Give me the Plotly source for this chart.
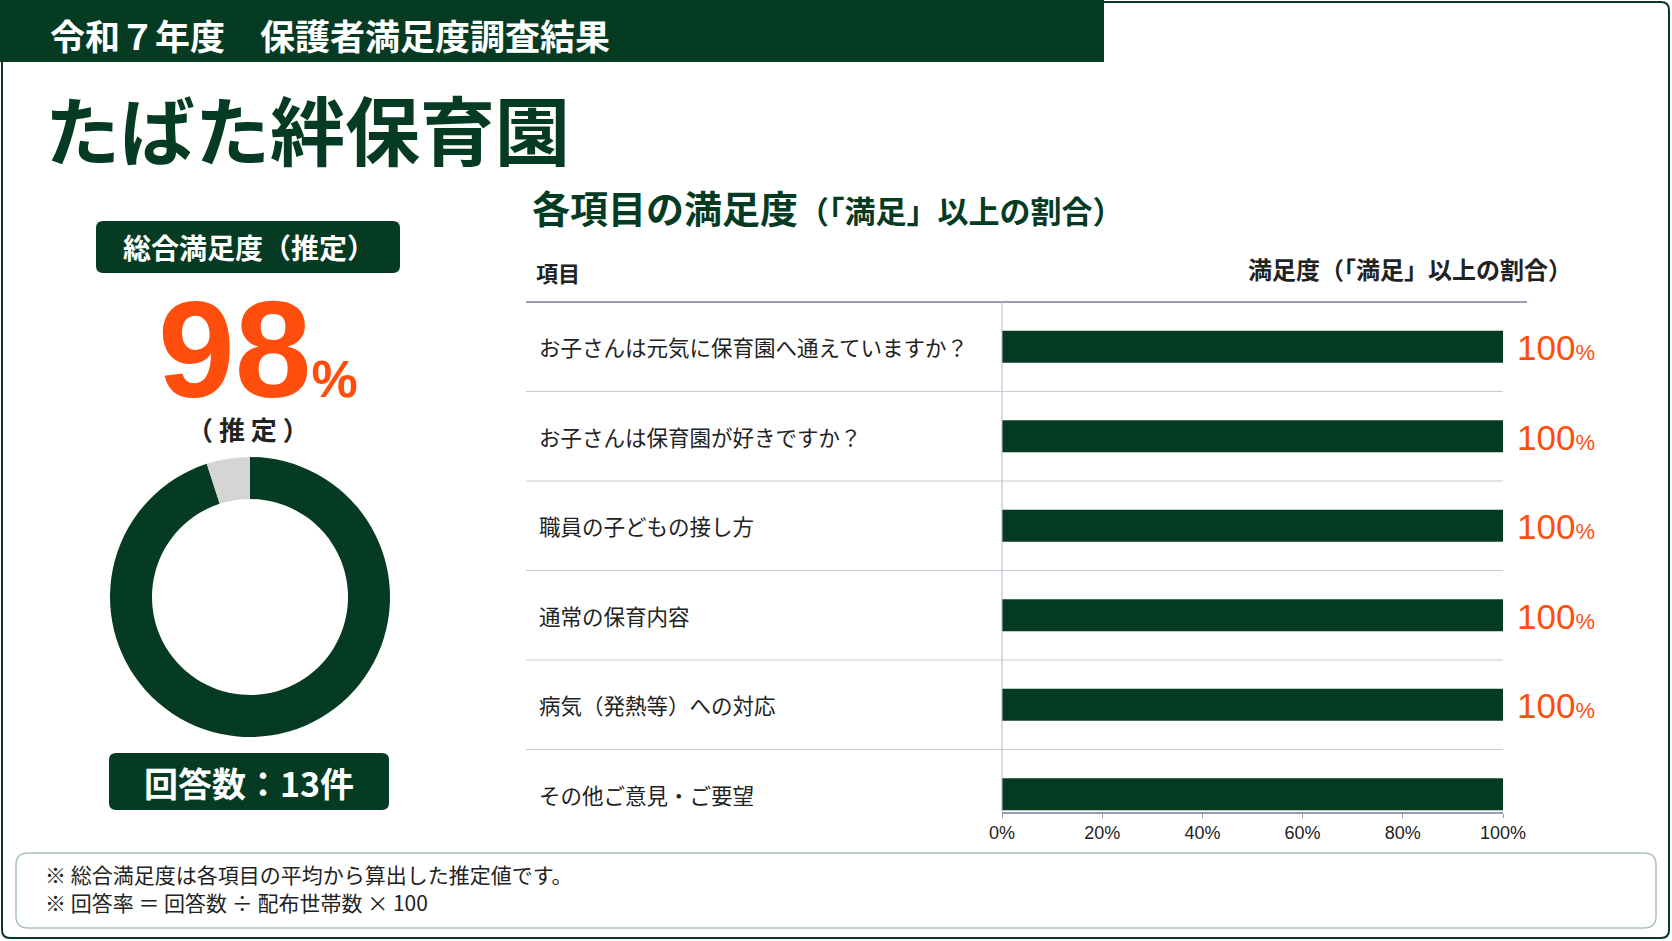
import plotly.graph_objects as go

W, H = 1672, 941

GREEN = "#053b23"
ORANGE = "#ff4d0d"
TEXT = "#222222"
JP = "Noto Sans CJK JP"
NUM = "Liberation Sans"

# data
items = [
    "お子さんは元気に保育園へ通えていますか？",
    "お子さんは保育園が好きですか？",
    "職員の子どもの接し方",
    "通常の保育内容",
    "病気（発熱等）への対応",
    "その他ご意見・ご要望",
]
satisfaction = [100, 100, 100, 100, 100, 100]
value_labels = ["100", "100", "100", "100", "100", ""]

donut_labels = ["満足", "その他"]
donut_values = [95, 5]
overall_score = "98"
responses = 13

tick_vals = [0, 20, 40, 60, 80, 100]
tick_text = ["0%", "20%", "40%", "60%", "80%", "100%"]

notes = [
    "※ 総合満足度は各項目の平均から算出した推定値です。",
    "※ 回答率 ＝ 回答数 ÷ 配布世帯数 × 100",
]


def px(x):
    return x / W


def py(y):
    return 1 - y / H


def rounded_box(x0, y0, x1, y1, r):
    # rounded rectangle path in paper coords, from pixel values
    pts = [
        f"M {px(x0 + r)} {py(y0)}",
        f"L {px(x1 - r)} {py(y0)}",
        f"Q {px(x1)} {py(y0)} {px(x1)} {py(y0 + r)}",
        f"L {px(x1)} {py(y1 - r)}",
        f"Q {px(x1)} {py(y1)} {px(x1 - r)} {py(y1)}",
        f"L {px(x0 + r)} {py(y1)}",
        f"Q {px(x0)} {py(y1)} {px(x0)} {py(y1 - r)}",
        f"L {px(x0)} {py(y0 + r)}",
        f"Q {px(x0)} {py(y0)} {px(x0 + r)} {py(y0)}",
        "Z",
    ]
    return " ".join(pts)


fig = go.Figure()

fig.add_trace(
    go.Bar(
        x=satisfaction,
        y=items,
        orientation="h",
        marker=dict(color=GREEN, line=dict(width=0)),
        width=0.36,
        hoverinfo="skip",
        showlegend=False,
    )
)

fig.add_trace(
    go.Pie(
        labels=donut_labels,
        values=donut_values,
        hole=0.70,
        sort=False,
        direction="clockwise",
        marker=dict(colors=[GREEN, "#d5d5d5"], line=dict(width=0)),
        textinfo="none",
        hoverinfo="skip",
        showlegend=False,
        automargin=False,
        domain=dict(x=[px(110), px(390)], y=[py(737), py(457)]),
    )
)

shapes = []
# outer frame
shapes.append(dict(type="path", xref="paper", yref="paper",
                   path=rounded_box(2, 2, 1669, 938, 8),
                   line=dict(color=GREEN, width=2), fillcolor="rgba(0,0,0,0)", layer="below"))
# header band
shapes.append(dict(type="rect", xref="paper", yref="paper",
                   x0=0, x1=px(1104), y0=py(62), y1=1,
                   fillcolor=GREEN, line=dict(width=0), layer="below"))
# left label boxes
shapes.append(dict(type="path", xref="paper", yref="paper",
                   path=rounded_box(96, 221, 400, 273, 7),
                   fillcolor=GREEN, line=dict(width=0), layer="below"))
shapes.append(dict(type="path", xref="paper", yref="paper",
                   path=rounded_box(109, 753, 389, 810, 7),
                   fillcolor=GREEN, line=dict(width=0), layer="below"))
# footer box
shapes.append(dict(type="path", xref="paper", yref="paper",
                   path=rounded_box(16, 853, 1656, 928, 12),
                   fillcolor="rgba(0,0,0,0)", line=dict(color="#a9c5b7", width=1.5), layer="below"))
# table header rule
shapes.append(dict(type="line", xref="paper", yref="paper",
                   x0=px(526), x1=px(1527), y0=py(302), y1=py(302),
                   line=dict(color="#9a9db1", width=2)))
# vertical rule at 0%
shapes.append(dict(type="line", xref="paper", yref="paper",
                   x0=px(1002), x1=px(1002), y0=py(302), y1=py(813),
                   line=dict(color="#b4b6c6", width=1)))
# row separators
for k in range(len(items) - 1):
    shapes.append(dict(type="line", xref="paper", yref="y",
                       x0=px(526), x1=px(1503), y0=k + 0.5, y1=k + 0.5,
                       line=dict(color="#c8c8d6", width=1.2)))

ann = []
ann.append(dict(text="<b>令和７年度　保護者満足度調査結果</b>", x=px(48), y=py(34),
                xanchor="left", yanchor="middle",
                font=dict(family=JP, size=35, color="white")))
ann.append(dict(text="<b>たばた絆保育園</b>", x=px(43), y=py(128),
                xanchor="left", yanchor="middle",
                font=dict(family=JP, size=75, color=GREEN)))
ann.append(dict(text="<b>総合満足度（推定）</b>", x=px(249), y=py(247),
                xanchor="center", yanchor="middle",
                font=dict(family=JP, size=28, color="white")))
# fixed box height keeps the big number's box clear of the line below
ann.append(dict(text=f"<b>{overall_score}<span style='font-size:52px'>%</span></b>",
                x=px(258), y=py(349), xanchor="center", yanchor="middle",
                height=106, valign="middle",
                font=dict(family=NUM, size=138, color=ORANGE)))
ann.append(dict(text="<b>（ 推 定 ）</b>", x=px(248), y=py(428),
                xanchor="center", yanchor="middle",
                font=dict(family=JP, size=26, color=TEXT)))
ann.append(dict(text=f"<b>回答数：{responses}件</b>", x=px(249), y=py(782),
                xanchor="center", yanchor="middle",
                font=dict(family=JP, size=34, color="white")))
ann.append(dict(text="<b>各項目の満足度<span style='font-size:31px'>（「満足」以上の割合）</span></b>",
                x=px(530), y=py(207), xanchor="left", yanchor="middle",
                font=dict(family=JP, size=38, color=GREEN)))
ann.append(dict(text="<b>項目</b>", x=px(534), y=py(272),
                xanchor="left", yanchor="middle",
                font=dict(family=JP, size=22, color=TEXT)))
ann.append(dict(text="<b>満足度（「満足」以上の割合）</b>", x=px(1574), y=py(268),
                xanchor="right", yanchor="middle",
                font=dict(family=JP, size=24, color=TEXT)))
for name in items:
    ann.append(dict(text=name, xref="paper", yref="y", x=px(537), y=name,
                    xanchor="left", yanchor="middle",
                    font=dict(family=JP, size=21.5, color=TEXT)))
for name, v, lab in zip(items, satisfaction, value_labels):
    if lab:
        ann.append(dict(text=f"{lab}<span style='font-size:22px'>%</span>",
                        xref="x", yref="y", x=v, y=name,
                        xanchor="left", yanchor="middle", xshift=12, yshift=-1,
                        font=dict(family=NUM, size=35, color=ORANGE)))
for i, line in enumerate(notes):
    ann.append(dict(text=line, x=px(43), y=py(874 + 28 * i),
                    xanchor="left", yanchor="middle",
                    font=dict(family=JP, size=21, color=TEXT)))
for a in ann:
    a.setdefault("xref", "paper")
    a.setdefault("yref", "paper")
    a["showarrow"] = False

fig.update_layout(
    width=W,
    height=H,
    autosize=False,
    margin=dict(l=0, r=0, t=0, b=0, pad=0),
    paper_bgcolor="white",
    plot_bgcolor="rgba(0,0,0,0)",
    shapes=shapes,
    annotations=ann,
    bargap=0.6,
    xaxis=dict(
        domain=[px(1002), px(1503)],
        range=[0, 100],
        anchor="free",
        position=py(813),
        tickvals=tick_vals,
        ticktext=tick_text,
        ticks="outside",
        ticklen=4,
        tickcolor="#9a9db1",
        showline=True,
        linecolor="#9a9db1",
        linewidth=1.5,
        showgrid=False,
        zeroline=False,
        automargin=False,
        tickfont=dict(family=NUM, size=18, color=TEXT),
        fixedrange=True,
    ),
    yaxis=dict(
        domain=[py(839), py(302)],
        type="category",
        categoryorder="array",
        categoryarray=items,
        autorange="reversed",
        showticklabels=False,
        showgrid=False,
        zeroline=False,
        showline=False,
        automargin=False,
        fixedrange=True,
    ),
)

# page margin off so the figure fills the window exactly
fig.write_html(
    "out.html",
    config={"displayModeBar": False},
    post_script="document.body.style.margin='0';document.body.style.overflow='hidden';",
)
